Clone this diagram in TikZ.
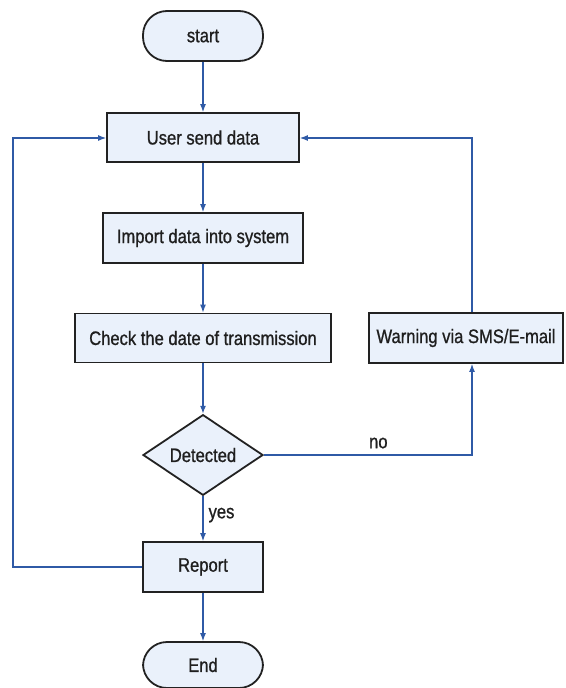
\documentclass[tikz,border=0pt]{standalone}
\usepackage{fontspec}
\setmainfont{Liberation Sans}[FakeStretch=0.85, FakeBold=0.9]
\usetikzlibrary{shapes.geometric,arrows.meta}
\definecolor{boxfill}{HTML}{EAF1FB}
\definecolor{flowblue}{HTML}{2F5AA6}
\definecolor{edgegray}{HTML}{222222}
\tikzset{
  base/.style={draw=edgegray, line width=1.8pt, fill=boxfill, text=black!88,
    font=\fontsize{19.5}{22}\selectfont, inner sep=0pt},
  procbox/.style={base, rectangle, minimum height=49pt},
  termbox/.style={base, rectangle, rounded corners=24pt, minimum width=120pt, minimum height=50pt},
  decbox/.style={base, diamond, minimum width=120pt, minimum height=75pt},
  flow/.style={draw=flowblue, line width=1.2pt, -{Latex[length=8pt,width=6pt]}},
  lbl/.style={font=\fontsize{19.5}{22}\selectfont, text=black!88, inner sep=0pt}
}
\begin{document}
\begin{tikzpicture}[x=1pt,y=-1pt]
  \useasboundingbox (0,0) rectangle (565,688);

  % nodes
  \node[termbox] (start) at (203,36) {start};
  \node[procbox, minimum width=192pt] (user) at (203,137.5) {User send data};
  \node[procbox, minimum width=200pt, minimum height=50pt] (import) at (203,238) {Import data into system};
  \node[procbox, minimum width=256pt] (check) at (203,338) {Check the date of transmission};
  \node[procbox, minimum width=194pt, minimum height=50pt] (warn) at (466,338) {Warning via SMS/E-mail};
  \node[decbox] (detect) at (203,455) {Detected};
  \node[procbox, minimum width=120pt, minimum height=50pt] (report) at (203,567) {Report};
  \node[termbox, minimum height=46pt] (end) at (203,665) {End};

  % bend points of the loops
  \coordinate (noturn) at (472,455);
  \coordinate (warnup) at (472,138);
  \coordinate (repleft) at (13,567);
  \coordinate (repup) at (13,138);

  % main flow
  \draw[flow] (start) -- (user);
  \draw[flow] (user) -- (import);
  \draw[flow] (import) -- (check);
  \draw[flow] (check) -- (detect);
  \draw[flow] (detect) -- node[lbl, right=5pt, pos=0.42] {yes} (report);
  \draw[flow] (report) -- (end);

  % "no" branch to the warning and back
  \draw[flow] (detect.east) -- node[lbl, above=6pt, pos=0.55] {no} (noturn) -- (noturn |- warn.south);
  \draw[flow] (warnup |- warn.north) -- (warnup) -- (user.east |- warnup);

  % report loops back to the start of the flow
  \draw[flow] (report.west) -- (repleft) -- (repup) -- (user.west |- repup);
\end{tikzpicture}
\end{document}
